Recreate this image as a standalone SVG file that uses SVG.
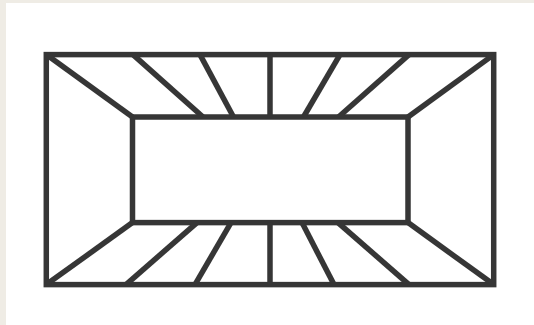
<svg xmlns="http://www.w3.org/2000/svg" width="534" height="325" viewBox="0 0 534 325">
<style>
.ln{stroke:#363636;stroke-width:5.5;fill:none;stroke-linecap:butt;stroke-linejoin:miter}
</style>
<rect x="0" y="0" width="534" height="325" fill="#efece5"/>
<rect x="6" y="3" width="528" height="322" fill="#ffffff"/>
<g id="outer-frame"><rect class="ln" x="46.3" y="54.6" width="447.4" height="230"/></g>
<g id="inner-frame"><rect class="ln" x="132.5" y="117" width="275.5" height="105.6"/></g>
<g id="connectors" class="ln">
<line x1="46.3" y1="54.6" x2="132.5" y2="117"/>
<line x1="493.7" y1="54.6" x2="408" y2="117"/>
<line x1="46.3" y1="284.6" x2="132.5" y2="222.6"/>
<line x1="493.7" y1="284.6" x2="408" y2="222.6"/>
<line x1="133" y1="54.6" x2="203" y2="117"/>
<line x1="200" y1="54.6" x2="233.5" y2="117"/>
<line x1="270" y1="54.6" x2="270" y2="117"/>
<line x1="340" y1="54.6" x2="303.5" y2="117"/>
<line x1="409" y1="54.6" x2="338.5" y2="117"/>
<line x1="126" y1="284.6" x2="197" y2="222.6"/>
<line x1="195" y1="284.6" x2="231" y2="222.6"/>
<line x1="270" y1="222.6" x2="270" y2="284.6"/>
<line x1="302" y1="222.6" x2="334" y2="284.6"/>
<line x1="338" y1="222.6" x2="409" y2="284.6"/>
</g>
</svg>
